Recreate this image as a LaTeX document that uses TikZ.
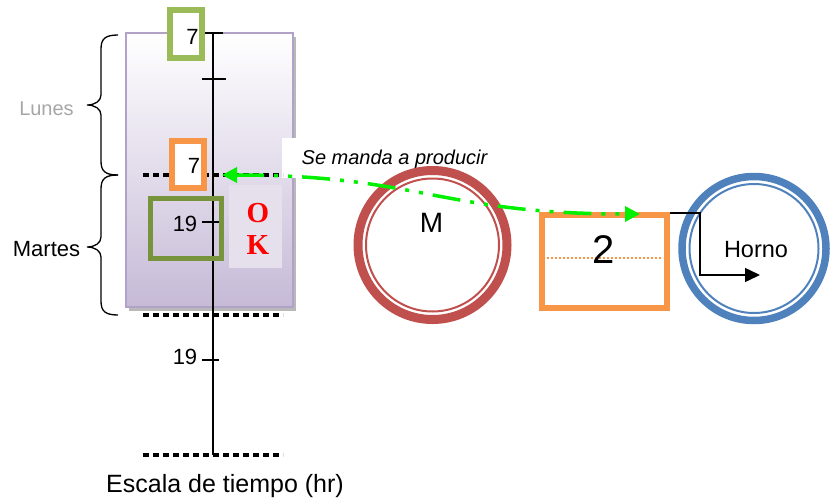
\documentclass[tikz,border=0pt]{standalone}
\usepackage{fontspec}
\setmainfont{Liberation Sans}
\newfontfamily\okfont{Liberation Serif}
\usetikzlibrary{arrows.meta}
\definecolor{lilac}{HTML}{B3A2C7}
\definecolor{lilacbot}{HTML}{C6BAD7}
\definecolor{okfill}{HTML}{E5E0EC}
\definecolor{lgreen}{HTML}{9BBB59}
\definecolor{ogreen}{HTML}{77933C}
\definecolor{orng}{HTML}{F79646}
\definecolor{redc}{HTML}{C0504D}
\definecolor{bluec}{HTML}{4F81BD}
\definecolor{neon}{HTML}{00F000}
\definecolor{lunesgray}{HTML}{A6A6A6}
\newcommand\mybrace[3]{% y0, ymid, y1
  \draw[bracestyle] (118,#1) .. controls (105,#1) and (101,#1+4) .. (101,#1+14)
    -- (101,#2-10) .. controls (101,#2-4) and (95,#2) .. (87,#2)
    .. controls (95,#2) and (101,#2+4) .. (101,#2+10)
    -- (101,#3-14) .. controls (101,#3-4) and (105,#3) .. (118,#3);}
\begin{document}
\begin{tikzpicture}[x=1pt,y=-1pt,
  lbl/.style={inner sep=0pt, font=\fontsize{22}{26}\selectfont},
  bracestyle/.style={draw=black, line width=1.3pt},
  dotline/.style={line width=4pt, dash pattern=on 6pt off 4pt},
  tickline/.style={line width=1.5pt},
  boxframe/.style={line width=6pt, inner sep=0pt},
  neonarrow/.style={neon, line width=3.5pt,
    dash pattern=on 28pt off 10pt on 4pt off 10pt on 4pt off 10pt,
    {Triangle[length=15pt,width=15pt]}-{Triangle[length=15pt,width=15pt]}},
]
\useasboundingbox (0,0) rectangle (830,501);

% purple time block
\fill[gray!55] (129,37) rectangle (296,311);
\shade[top color=white, bottom color=lilacbot] (126,33) rectangle (293,307);
\draw[lilac, line width=2pt] (126,33) rectangle (293,307);
\node[fill=okfill, minimum width=53pt, minimum height=83pt, inner sep=0pt] (okbox) at (255.5,226.5) {};
\node[font=\okfont\bfseries\fontsize{29}{30}\selectfont, text=red, inner sep=0pt] (okO) at (258,213) {O};
\node[font=\okfont\bfseries\fontsize{29}{30}\selectfont, text=red, inner sep=0pt] (okK) at (258,245) {K};

% label background
\node[fill=white, minimum width=208pt, minimum height=40pt, inner sep=0pt] (lblbg) at (386,158) {};
\node[font=\itshape\fontsize{20}{24}\selectfont, inner sep=0pt] (send) at (394.5,159) {Se manda a producir};

% dotted lines
\coordinate (d1a) at (143,175); \coordinate (d1b) at (283,175);
\coordinate (d2a) at (143,315); \coordinate (d2b) at (283,315);
\coordinate (d3a) at (143,455); \coordinate (d3b) at (283,455);
\draw[dotline] (d1a) -- (d1b);
\draw[dotline] (d2a) -- (d2b);
\draw[dotline] (d3a) -- (d3b);

% axis
\coordinate (axtop) at (213,33); \coordinate (axbot) at (213,455);
\draw[line width=2pt] (axtop) -- (axbot);
\draw[tickline] (203,33) -- (223,33);
\draw[tickline] (202,79) -- (226,79);
\draw[tickline] (202,222) -- (219,222);
\draw[tickline] (202,360) -- (219,360);

% boxes on axis
\node[draw=lgreen, fill=white, boxframe, minimum width=32pt, minimum height=48pt] (g7box) at (186,34) {};
\node[lbl] (g7) at (192.5,37) {7};
\node[draw=orng, fill=white, boxframe, minimum width=32pt, minimum height=47pt] (o7box) at (188,164.5) {};
\node[lbl] (o7) at (194,166) {7};
\node[draw=ogreen, line width=5pt, inner sep=0pt, minimum width=71pt, minimum height=60pt] (g19box) at (186,228.5) {};
\node[lbl] (n19a) at (185,224) {19};
\node[lbl] (n19b) at (185,357) {19};

% braces and labels
\mybrace{35}{105}{175}
\mybrace{175}{247}{315}
\node[lbl, text=lunesgray, font=\fontsize{20}{24}\selectfont] (lunes) at (46.5,109) {Lunes};
\node[lbl, font=\fontsize{22}{26}\selectfont] (martes) at (46.5,249) {Martes};

% time scale label
\node[lbl, font=\fontsize{25}{29}\selectfont, anchor=base] (scale) at (225,492) {Escala de tiempo (hr)};

% M circle
\node[circle, draw=redc, line width=9pt, minimum size=149pt, inner sep=0pt] (M) at (432.5,245) {};
\draw[redc, line width=2pt] (M.center) circle (66.5);
\node[lbl, font=\fontsize{28}{32}\selectfont] (Mt) at (431.5,223) {M};

% orange buffer box
\node[draw=orng, boxframe, minimum width=125pt, minimum height=93pt] (buf) at (604.5,261.5) {};
\draw[orng, line width=2pt, dash pattern=on 2pt off 2pt] (547,258) -- (663,258);
\node[lbl, font=\fontsize{40}{44}\selectfont] (two) at (604,250) {2};

% Horno circle
\node[circle, draw=bluec, line width=7.5pt, minimum size=144pt, inner sep=0pt] (H) at (754,248.5) {};
\draw[bluec, line width=2pt] (H.center) circle (64.5);
\node[lbl, font=\fontsize{23.5}{27}\selectfont] (Ht) at (756,250) {Horno};

% connectors
\coordinate (arrL) at (222,175);
\coordinate (arrR) at (640,214);
\draw[neonarrow] (arrL) .. controls (420,175) and (440,214) .. (arrR);
\coordinate (bufout) at (670,213);
\coordinate (hin) at (760,275);
\draw[line width=1.5pt, -{Triangle[length=15pt,width=14pt]}] (bufout) -| (700,275) -- (hin);
\end{tikzpicture}
\end{document}
